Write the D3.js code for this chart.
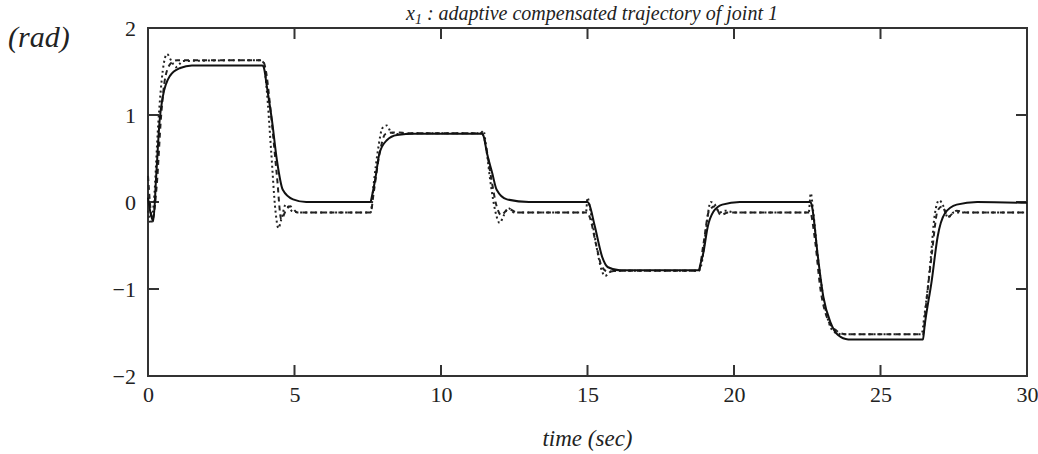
<!DOCTYPE html>
<html>
<head>
<meta charset="utf-8">
<script src="https://cdn.jsdelivr.net/npm/d3@7"></script>
<style>
	body { margin: 0; background: #fff; }
	svg { display: block; font-family: 'Liberation Serif', 'DejaVu Serif', serif; }
	.tick text { font-size: 22px; fill: #222; }
</style>
</head>
<body>
<svg id="chart"></svg>
<script>
// time (sec), angle (rad)
const xTicks = [0, 5, 10, 15, 20, 25, 30]
const yTicks = [-2, -1, 0, 1, 2]

const solidLine = [
	[0, 0.05], [0.1, -0.15], [0.18, -0.22], [0.28, 0.3], [0.4, 0.95], [0.5, 1.2], [0.75, 1.45], [1.1, 1.54], [1.5, 1.57], [3.9, 1.57],
	[3.95, 1.55], [4.06, 1.32], [4.23, 0.94], [4.4, 0.48], [4.6, 0.14], [4.95, 0.03], [5.4, 0], [7.6, 0],
	[7.62, 0.03], [7.75, 0.25], [7.9, 0.56], [8.15, 0.71], [8.5, 0.77], [9.1, 0.785], [11.4, 0.785],
	[11.45, 0.76], [11.57, 0.56], [11.75, 0.33], [11.9, 0.14], [12.25, 0.03], [13, 0], [15.0, 0],
	[15.05, -0.02], [15.25, -0.28], [15.5, -0.63], [15.7, -0.75], [16.1, -0.785], [18.8, -0.785],
	[18.85, -0.72], [18.95, -0.59], [19.1, -0.29], [19.3, -0.11], [19.6, -0.03], [20.2, 0], [22.6, 0],
	[22.65, -0.03], [22.7, -0.13], [22.85, -0.59], [23.05, -1.09], [23.3, -1.39], [23.55, -1.53], [23.9, -1.58], [26.45, -1.58],
	[26.5, -1.44], [26.75, -0.9], [26.95, -0.4], [27.2, -0.13], [27.6, -0.03], [28.3, 0], [30, -0.01]
]

const dashedLine = [
	[0, 0.3], [0.15, -0.2], [0.3, 0.2], [0.45, 1.0], [0.6, 1.45], [0.8, 1.6], [1.0, 1.63], [3.9, 1.63],
	[4.0, 1.55], [4.2, 1.0], [4.4, 0.3], [4.55, -0.2], [4.7, -0.1], [4.85, -0.05], [5.1, -0.12], [7.6, -0.12],
	[7.7, 0.1], [7.9, 0.55], [8.1, 0.78], [8.4, 0.8], [9, 0.79], [11.4, 0.79],
	[11.5, 0.7], [11.7, 0.3], [11.9, -0.05], [12.05, -0.15], [12.3, -0.08], [12.6, -0.12], [15.0, -0.12],
	[15.1, -0.2], [15.3, -0.5], [15.5, -0.75], [15.7, -0.8], [16, -0.79], [18.8, -0.79],
	[18.95, -0.5], [19.15, -0.1], [19.35, -0.05], [19.55, -0.15], [19.8, -0.12], [22.6, -0.12],
	[22.75, -0.4], [22.95, -1.0], [23.2, -1.35], [23.5, -1.48], [23.8, -1.52], [26.45, -1.52],
	[26.55, -1.2], [26.75, -0.6], [26.95, -0.1], [27.1, -0.05], [27.3, -0.17], [27.6, -0.1], [27.9, -0.12], [30, -0.12]
]

const dottedLine = [
	[0, -0.1], [0.1, -0.25], [0.2, 0.0], [0.35, 0.9], [0.5, 1.5], [0.65, 1.7], [0.8, 1.62], [0.95, 1.55], [1.2, 1.62], [3.8, 1.63],
	[3.95, 1.6], [4.05, 1.3], [4.2, 0.6], [4.35, -0.1], [4.45, -0.3], [4.55, -0.2], [4.7, -0.03], [4.9, -0.1], [5.2, -0.12], [7.6, -0.12],
	[7.7, 0.2], [7.85, 0.6], [8.0, 0.85], [8.15, 0.88], [8.3, 0.8], [8.6, 0.78], [9, 0.79], [11.35, 0.79],
	[11.45, 0.82], [11.55, 0.6], [11.7, 0.2], [11.85, -0.1], [12.0, -0.24], [12.15, -0.15], [12.3, -0.07], [12.5, -0.12], [14.95, -0.12],
	[15.0, 0.05], [15.1, -0.1], [15.3, -0.5], [15.5, -0.8], [15.6, -0.85], [15.8, -0.8], [16.1, -0.79], [18.8, -0.79],
	[18.9, -0.7], [19.05, -0.3], [19.2, 0.0], [19.35, -0.03], [19.5, -0.12], [19.7, -0.1], [20, -0.12], [22.55, -0.12],
	[22.62, 0.1], [22.7, -0.1], [22.85, -0.6], [23.05, -1.1], [23.25, -1.4], [23.45, -1.5], [23.7, -1.52], [26.4, -1.52],
	[26.5, -1.3], [26.7, -0.7], [26.85, -0.15], [27.0, 0.02], [27.15, -0.05], [27.3, -0.18], [27.5, -0.12], [30, -0.12]
]

function chart() {
	const width = 1038
	const height = 454

	const margin = {
		top: 28,
		right: 11,
		bottom: 78,
		left: 148
	}

	const xScale = d3.scaleLinear().domain([0, 30]).range([margin.left, width - margin.right])
	const yScale = d3.scaleLinear().domain([-2, 2]).range([height - margin.bottom, margin.top])

	const svg = d3.select('#chart').attr('width', width).attr('height', height)

	const serif = "'Liberation Serif', 'DejaVu Serif', serif"

	// title (cut at the top edge in the scan; kept fully visible here)
	const title = svg
		.append('text')
		.attr('x', 592)
		.attr('y', 20)
		.attr('text-anchor', 'middle')
		.attr('font-style', 'italic')
		.attr('font-size', 20)
		.attr('fill', '#222')
	title.append('tspan').text('x')
	title.append('tspan').attr('dy', 4).attr('font-size', 14).text('1')
	title.append('tspan').attr('dy', -4).text(' : adaptive compensated trajectory  of  joint 1')

	const inner = [5, 10, 15, 20, 25]
	const innerY = [-1, 0, 1]

	svg
		.append('g')
		.attr('transform', `translate(0,${yScale(-2)})`)
		.call(d3.axisBottom(xScale).tickValues(xTicks).tickSize(0).tickPadding(10))
		.call(g => g.attr('font-family', serif))
		.call(g => g.select('.domain').remove())

	svg
		.append('g')
		.attr('transform', `translate(${margin.left},0)`)
		.call(d3.axisLeft(yScale).tickValues(yTicks).tickSize(0).tickPadding(12).tickFormat(d3.format('d')))
		.call(g => g.attr('font-family', serif))
		.call(g => g.select('.domain').remove())

	// inward ticks on all four sides
	const tickG = svg.append('g').attr('stroke', '#333').attr('stroke-width', 2)
	inner.forEach(t => {
		tickG.append('line').attr('x1', xScale(t)).attr('x2', xScale(t)).attr('y1', yScale(2)).attr('y2', yScale(2) + 11)
		tickG.append('line').attr('x1', xScale(t)).attr('x2', xScale(t)).attr('y1', yScale(-2)).attr('y2', yScale(-2) - 11)
	})
	innerY.forEach(v => {
		tickG.append('line').attr('x1', xScale(0)).attr('x2', xScale(0) + 11).attr('y1', yScale(v)).attr('y2', yScale(v))
		tickG.append('line').attr('x1', xScale(30)).attr('x2', xScale(30) - 11).attr('y1', yScale(v)).attr('y2', yScale(v))
	})

	svg
		.append('rect')
		.attr('x', xScale(0))
		.attr('y', yScale(2))
		.attr('width', xScale(30) - xScale(0))
		.attr('height', yScale(-2) - yScale(2))
		.attr('fill', 'none')
		.attr('stroke', '#333')
		.attr('stroke-width', 2)

	const line = d3
		.line()
		.x(d => xScale(d[0]))
		.y(d => yScale(d[1]))
		.curve(d3.curveMonotoneX)

	svg
		.append('path')
		.datum(dashedLine)
		.attr('fill', 'none')
		.attr('stroke', '#222')
		.attr('stroke-width', 2)
		.attr('stroke-dasharray', '5,4')
		.attr('d', line)

	svg
		.append('path')
		.datum(dottedLine)
		.attr('fill', 'none')
		.attr('stroke', '#222')
		.attr('stroke-width', 2)
		.attr('stroke-dasharray', '2,3')
		.attr('d', line)

	svg
		.append('path')
		.datum(solidLine)
		.attr('fill', 'none')
		.attr('stroke', '#111')
		.attr('stroke-width', 2)
		.attr('d', line)

	svg
		.append('text')
		.attr('x', 8)
		.attr('y', 47)
		.attr('font-size', 30)
		.attr('font-style', 'italic')
		.attr('fill', '#222')
		.text('(rad)')

	svg
		.append('text')
		.attr('x', xScale(15))
		.attr('y', 446)
		.attr('text-anchor', 'middle')
		.attr('font-size', 23)
		.attr('font-style', 'italic')
		.attr('fill', '#222')
		.text('time (sec)')
}

chart()
</script>
</body>
</html>
